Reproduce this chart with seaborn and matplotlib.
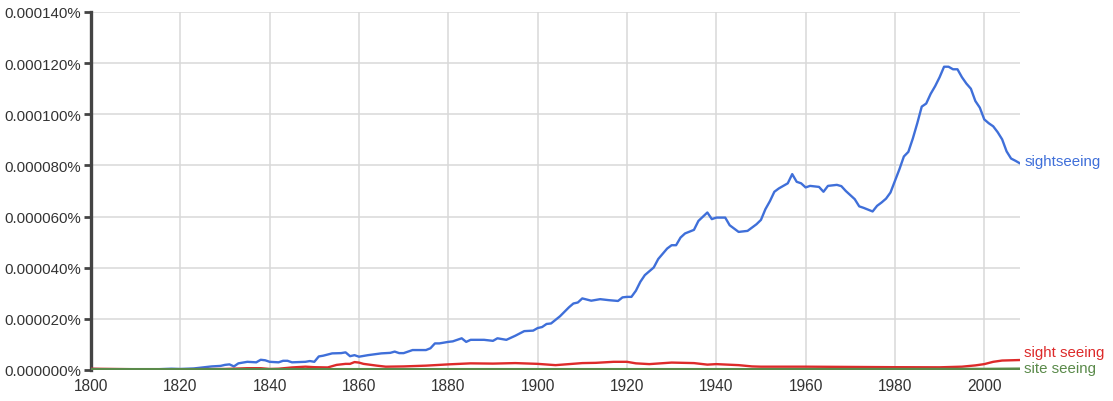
import matplotlib
matplotlib.use("Agg")
import matplotlib.pyplot as plt
import seaborn as sns
import pandas as pd
from matplotlib.ticker import FuncFormatter, MultipleLocator

# values in units of 0.000001 %
years_sightseeing = [1800, 1805, 1810, 1815, 1818, 1820, 1823, 1825, 1827, 1829, 1830, 1831, 1832, 1833,
                     1835, 1837, 1838, 1839, 1840, 1842, 1843, 1844, 1845, 1848, 1849, 1850, 1851, 1852,
                     1854, 1856, 1857, 1858, 1859, 1860, 1862, 1865, 1867, 1868, 1869, 1870, 1872, 1875,
                     1876, 1877, 1878, 1880, 1881, 1883, 1884, 1885, 1888, 1890, 1891, 1893, 1895, 1897,
                     1899, 1900, 1901, 1902, 1903, 1905, 1907, 1908, 1909, 1910, 1912, 1914, 1916, 1918,
                     1919, 1920, 1921, 1922, 1923, 1924, 1926, 1927, 1929, 1930, 1931, 1932, 1933, 1935,
                     1936, 1938, 1939, 1940, 1942, 1943, 1945, 1947, 1949, 1950, 1951, 1952, 1953, 1954,
                     1956, 1957, 1958, 1959, 1960, 1961, 1963, 1964, 1965, 1967, 1968, 1969, 1970, 1971,
                     1972, 1973, 1975, 1976, 1977, 1978, 1979, 1980, 1981, 1982, 1983, 1984, 1985, 1986,
                     1987, 1988, 1989, 1990, 1991, 1992, 1993, 1994, 1995, 1996, 1997, 1998, 1999, 2000,
                     2001, 2002, 2003, 2004, 2005, 2006, 2007, 2008]
vals_sightseeing = [0.4, 0.2, 0.2, 0.3, 0.5, 0.4, 0.6, 1.0, 1.4, 1.6, 2.0, 2.2, 1.4, 2.6,
                    3.2, 3.0, 4.0, 3.8, 3.2, 3.0, 3.6, 3.6, 3.0, 3.2, 3.5, 3.2, 5.3, 5.6,
                    6.5, 6.6, 6.9, 5.4, 5.8, 5.2, 5.8, 6.5, 6.7, 7.2, 6.6, 6.6, 7.8, 7.8,
                    8.5, 10.4, 10.4, 11.0, 11.2, 12.4, 11.0, 11.8, 11.8, 11.4, 12.4, 11.8, 13.4, 15.2,
                    15.4, 16.4, 16.8, 18.0, 18.2, 21.0, 24.5, 26.0, 26.4, 28.0, 27.1, 27.7, 27.3, 27.0,
                    28.4, 28.6, 28.6, 31.0, 34.5, 37.1, 40.1, 43.4, 47.5, 48.8, 48.8, 51.8, 53.4, 54.8,
                    58.3, 61.6, 59.0, 59.6, 59.6, 56.6, 54.0, 54.4, 57.0, 58.7, 62.9, 66.0, 69.7, 71.0,
                    73.0, 76.6, 73.6, 73.0, 71.4, 72.0, 71.6, 69.7, 72.0, 72.4, 71.9, 70.0, 68.4, 66.8,
                    64.0, 63.4, 62.0, 64.2, 65.5, 67.0, 69.4, 73.9, 78.5, 83.5, 85.3, 90.5, 96.5, 103.0,
                    104.2, 108.0, 111.0, 114.5, 118.6, 118.6, 117.6, 117.6, 114.5, 112.0, 110.0, 105.2, 102.6, 98.0,
                    96.5, 95.3, 93.0, 90.2, 85.5, 82.7, 81.8, 80.8]

years_sight_seeing = [1800, 1810, 1820, 1830, 1835, 1838, 1840, 1842, 1845, 1848, 1850, 1853, 1855, 1857,
                      1858, 1859, 1860, 1861, 1864, 1866, 1870, 1875, 1880, 1885, 1890, 1895, 1900, 1904,
                      1907, 1910, 1913, 1915, 1917, 1920, 1922, 1925, 1930, 1935, 1938, 1940, 1945, 1948,
                      1950, 1960, 1970, 1980, 1990, 1995, 1998, 2000, 2002, 2004, 2008]
vals_sight_seeing = [0.5, 0.3, 0.3, 0.4, 0.7, 0.7, 0.4, 0.5, 1.0, 1.3, 1.1, 1.0, 2.0, 2.4,
                     2.4, 3.1, 2.9, 2.4, 1.7, 1.3, 1.4, 1.7, 2.2, 2.6, 2.5, 2.7, 2.4, 1.9,
                     2.3, 2.7, 2.8, 3.0, 3.2, 3.2, 2.6, 2.3, 2.9, 2.7, 2.1, 2.3, 1.9, 1.4,
                     1.3, 1.3, 1.2, 1.1, 1.05, 1.3, 1.8, 2.3, 3.2, 3.7, 3.9]

years_site_seeing = [1800, 1850, 1900, 1950, 2000, 2008]
vals_site_seeing = [0.2, 0.2, 0.2, 0.2, 0.3, 0.4]

series_names = ["sightseeing", "sight seeing", "site seeing"]
series_colors = ["#3f6fd9", "#dd2a2a", "#5a8a4a"]
x_ticks = [1800, 1820, 1840, 1860, 1880, 1900, 1920, 1940, 1960, 1980, 2000]

sns.set_theme(style="white")
plt.rcParams['font.family'] = ['Liberation Sans', 'DejaVu Sans']

fig = plt.figure(figsize=(11.13, 4.02), dpi=100)
ax = fig.add_axes([91 / 1113, 1 - 371 / 402, (1020 - 91) / 1113, (371 - 13) / 402])

data = [(years_sightseeing, vals_sightseeing),
        (years_sight_seeing, vals_sight_seeing),
        (years_site_seeing, vals_site_seeing)]
label_offsets = [2, 5.5, 0.5]
line_widths = [1.7, 1.7, 2.2]

for (yrs, vals), name, col, off, lw in zip(data, series_names, series_colors, label_offsets, line_widths):
    df = pd.DataFrame({"year": yrs, "value": vals})
    sns.lineplot(data=df, x="year", y="value", ax=ax, color=col, linewidth=lw, zorder=3)
    ax.annotate(name, xy=(yrs[-1], vals[-1]), xytext=(3, off), textcoords="offset points",
                ha="left", va="center", color=col, fontsize=10.8, annotation_clip=False)

ax.set_xlim(1800, 2008)
ax.set_ylim(0, 140)
ax.set_xticks(x_ticks)
ax.yaxis.set_major_locator(MultipleLocator(20))
ax.yaxis.set_major_formatter(FuncFormatter(lambda v, p: f"{v * 1e-6:.6f}%"))
ax.set_xlabel("")
ax.set_ylabel("")

ax.grid(True, color="#d9d9d9", linewidth=1.1, zorder=0)
ax.set_axisbelow(True)
for s in ["top", "right", "bottom"]:
    ax.spines[s].set_visible(False)
ax.spines["left"].set_color("#444444")
ax.spines["left"].set_linewidth(2.4)

ax.tick_params(axis="y", which="major", direction="out", length=5, width=2, color="#444444",
               labelsize=10.8, labelcolor="#333333", pad=2, left=True)
ax.tick_params(axis="x", which="major", length=0, labelsize=11.2, labelcolor="#333333", pad=5.5)

fig.savefig("out.png", dpi=100)
